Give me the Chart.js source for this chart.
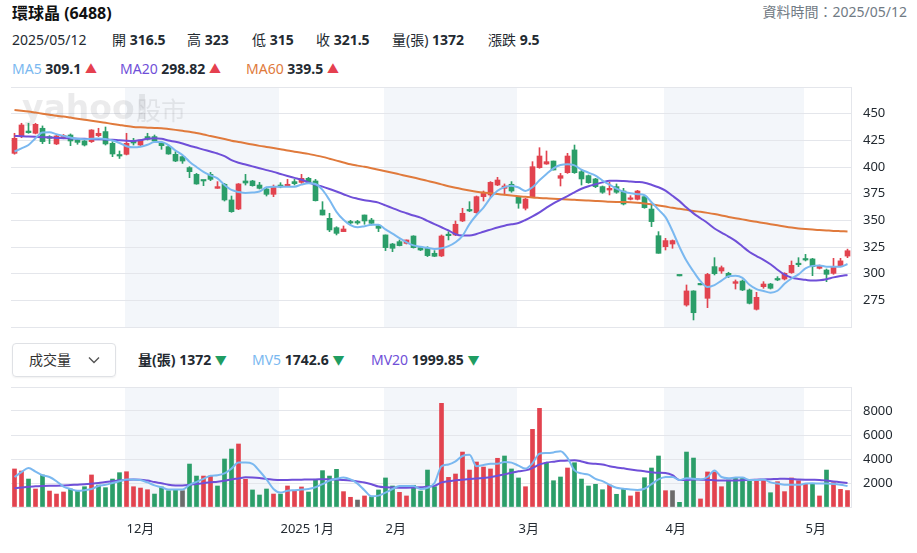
<!DOCTYPE html>
<html>
<head>
<meta charset="utf-8">
<script src="https://cdn.jsdelivr.net/npm/chart.js@4.4.1/dist/chart.umd.min.js"></script>
<style>
  body { margin: 0; background: #fff; font-family: 'Noto Sans', 'Noto Sans CJK TC', sans-serif; color: #232a31; }
  #wrap { position: relative; width: 917px; height: 553px; overflow: hidden; }
  .t { position: absolute; white-space: nowrap; line-height: 1; font-size: 14px; }
  .b { font-weight: 700; }
  .up { color: #e5404f; font-size: 12px; }
  .dn { color: #1f9d62; font-size: 12px; }
  canvas { position: absolute; left: 0; }
  #sel { position: absolute; left: 12px; top: 343px; width: 102px; height: 32px; border: 1px solid #dfe1e5; border-radius: 4px; box-shadow: 0 1px 2px rgba(0,0,0,.06); }
</style>
</head>
<body>
<div id="wrap">
  <div class="t b" style="left:12px;top:5px;font-size:16px;color:#111">環球晶 (6488)</div>
  <div class="t" style="right:10px;top:5px;font-size:14px;color:#707a84">資料時間：2025/05/12</div>

  <div class="t" style="left:12px;top:33px">2025/05/12</div>
  <div class="t" style="left:112px;top:33px">開 <span class="b">316.5</span></div>
  <div class="t" style="left:187px;top:33px">高 <span class="b">323</span></div>
  <div class="t" style="left:252px;top:33px">低 <span class="b">315</span></div>
  <div class="t" style="left:316px;top:33px">收 <span class="b">321.5</span></div>
  <div class="t" style="left:392px;top:33px">量(張) <span class="b">1372</span></div>
  <div class="t" style="left:488px;top:33px">漲跌 <span class="b">9.5</span></div>

  <div class="t" style="left:12px;top:62px"><span style="color:#7ab8f0">MA5</span> <span class="b">309.1</span> <span class="up">▲</span></div>
  <div class="t" style="left:120px;top:62px"><span style="color:#6f4fd8">MA20</span> <span class="b">298.82</span> <span class="up">▲</span></div>
  <div class="t" style="left:246px;top:62px"><span style="color:#e07a3c">MA60</span> <span class="b">339.5</span> <span class="up">▲</span></div>

  <canvas id="price" width="917" height="242" style="top:86px"></canvas>

  <div id="sel">
    <div class="t" style="left:16px;top:9px;color:#333">成交量</div>
    <svg style="position:absolute;left:75px;top:12px" width="12" height="8" viewBox="0 0 12 8"><path d="M1 1.5 L6 6.5 L11 1.5" fill="none" stroke="#555" stroke-width="1.4"/></svg>
  </div>
  <div class="t b" style="left:138px;top:353px">量(張) 1372 <span class="dn">▼</span></div>
  <div class="t" style="left:252px;top:353px"><span style="color:#7ab8f0">MV5</span> <span class="b">1742.6</span> <span class="dn">▼</span></div>
  <div class="t" style="left:371px;top:353px"><span style="color:#6f4fd8">MV20</span> <span class="b">1999.85</span> <span class="dn">▼</span></div>

  <canvas id="vol" width="917" height="160" style="top:386px"></canvas>
</div>

<script>
// trading days per month
const monthDays = [
  [2024, 11, [8, 11, 12, 13, 14, 15, 18, 19, 20, 21, 22, 25, 26, 27, 28, 29]],
  [2024, 12, [2, 3, 4, 5, 6, 9, 10, 11, 12, 13, 16, 17, 18, 19, 20, 23, 24, 25, 26, 27, 30, 31]],
  [2025, 1, [2, 3, 6, 7, 8, 9, 10, 13, 14, 15, 16, 17, 20, 21, 22]],
  [2025, 2, [3, 4, 5, 6, 7, 10, 11, 12, 13, 14, 17, 18, 19, 20, 21, 24, 25, 26, 27]],
  [2025, 3, [3, 4, 5, 6, 7, 10, 11, 12, 13, 14, 17, 18, 19, 20, 21, 24, 25, 26, 27, 28, 31]],
  [2025, 4, [1, 2, 7, 8, 9, 10, 11, 14, 15, 16, 17, 18, 21, 22, 23, 24, 25, 28, 29, 30]],
  [2025, 5, [2, 5, 6, 7, 8, 9, 12]]
];

const opens = [
  412.8, 429.4, 433.7, 431.6, 436.3, 428.5, 421.6, 427.5, 430, 425.3,
  424.4, 423.8, 429.4, 433.2, 422.2, 410.5, 411.9, 424.4, 420.6, 428.5,
  428.5, 422.2, 419.1, 411.9, 409.7, 399.4, 393.1, 387.2, 393.1, 380,
  383.8, 369.1, 360.6, 386.9, 386.9, 383.1, 379.4, 374.4, 383.1, 382.2,
  386.3, 385.6, 389.4, 386.9, 359.7, 351.9, 343.1, 339.4, 348.4, 348.4,
  355, 350.3, 345, 336.3, 327.8, 330, 328.4, 335.3, 324.4, 323.8,
  319.1, 316.6, 336, 336.3, 349.4, 359, 357.2, 372.2, 373.8, 383.1,
  380, 383.8, 371.6, 361.3, 372.2, 399.4, 402.8, 405.6, 389.4, 394.7,
  416, 395.6, 391.9, 388.8, 381.6, 378.4, 381.6, 377.5, 369.7, 369.7,
  372.2, 360.6, 335.6, 325.3, 327.8, 297.9, 270.6, 283.8, 289.5, 276.9,
  306.6, 302.5, 300.3, 290.9, 293.1, 284.7, 266.6, 287.8, 290.3, 295,
  295, 301, 309.4, 313.8, 313.8, 305, 303.4, 300.3, 307.2, 316.5
];
const highs = [
  431.6, 441, 441, 441, 438.5, 429.4, 430, 430.5, 431, 426.9,
  425.3, 435, 436.3, 437.5, 423.8, 415, 431.6, 426.9, 425.6, 431.6,
  430, 423.8, 420.6, 414.4, 410.6, 400.3, 394, 387.5, 395, 386.3,
  384.7, 372.8, 384.5, 393.1, 387.5, 385.6, 381, 383.1, 385.3, 388.4,
  388.4, 393.1, 390.3, 388.4, 367.5, 356.6, 344, 344.7, 350, 350,
  355, 351.9, 345.6, 336.3, 328.4, 331.6, 331.6, 335.6, 325.3, 325.3,
  321.6, 336.3, 339.4, 349.4, 361.3, 367.5, 372.8, 377.5, 386.3, 390.3,
  384.1, 386.3, 372.2, 370.6, 405, 418.1, 415, 405.6, 394, 412.8,
  420.6, 397.2, 392.5, 389.4, 382.2, 385.6, 384.1, 380, 373.1, 378.1,
  372.8, 364.4, 339.4, 333.1, 331.6, 297.9, 289.4, 284, 289.5, 300.3,
  315, 307.2, 301.3, 294.1, 294.1, 285.6, 282.5, 292.5, 290.9, 297.2,
  300.9, 311.9, 315, 318.1, 314.4, 308.1, 304.4, 314.4, 314.4, 323
];
const lows = [
  412, 427.5, 431.6, 431, 421.9, 421.9, 421, 426.5, 420, 421.3,
  419.7, 423, 428.5, 420.6, 409.7, 408, 411.3, 420.6, 419.7, 425.3,
  423.8, 416.6, 411.9, 405, 403.4, 390, 383.8, 382.5, 387.2, 380,
  368.1, 357.5, 360, 383.1, 382, 379.4, 372.8, 372.2, 380.5, 381.6,
  383.1, 384.7, 385, 368.1, 355, 339.4, 336.3, 339.4, 346.3, 346.3,
  346.3, 345.6, 339.4, 321.6, 320.6, 326, 327.8, 324, 321.6, 316,
  316, 316, 331.6, 335.6, 348.8, 358.1, 356.6, 368.1, 371.3, 382.5,
  373.8, 376.3, 361.3, 359.7, 371.6, 398.8, 402.5, 397.2, 382.2, 394,
  394, 383.1, 384.7, 380.6, 375.3, 373.8, 375.3, 364.4, 369.1, 369.1,
  361.3, 344.1, 319.1, 322.2, 323.8, 297.9, 269.5, 256.6, 289.5, 268.1,
  298.8, 300.3, 296.3, 285.6, 284.1, 271.6, 265.9, 286.3, 285.6, 293.4,
  294.1, 300.3, 306.6, 311.9, 298.1, 304.4, 292.5, 299.4, 306.6, 315
];
const closes = [
  426.9, 439.4, 432.2, 440, 423.8, 426.9, 429.1, 429.4, 424.4, 423.1,
  420.6, 434.7, 431.6, 421.6, 412.2, 410.3, 422.2, 422.5, 425.3, 426,
  424.4, 420, 412.2, 405.6, 405.6, 395.6, 384.1, 386.9, 388.4, 381.6,
  369.1, 358.1, 384.1, 385, 382.5, 380, 374.4, 381.6, 381.3, 383.8,
  384.4, 389.4, 385.6, 368.4, 355, 341, 337.8, 341.9, 347.5, 347.5,
  349.4, 347.2, 342.5, 324.4, 323.8, 326.3, 331.6, 324.4, 322.2, 316.9,
  316.3, 335.3, 335.6, 346.3, 356.6, 358.8, 372.2, 375.3, 385.6, 387.8,
  382.2, 377.5, 366, 370, 400.3, 410.3, 405, 397.2, 391.9, 410.3,
  394.7, 388.8, 385.3, 381.6, 376.3, 380, 376.3, 365.3, 370, 377.5,
  361.9, 348.8, 319.1, 331, 331, 297.9, 283.8, 263.4, 289.5, 299.3,
  300, 305.6, 297.2, 292.5, 284.7, 272.2, 277.8, 290.3, 286.3, 294.1,
  300.3, 307.8, 308.4, 312.8, 306.6, 307.2, 299.4, 306.6, 312, 321.5
];
const prevClose = 413;

const volumes = [
  3170, 3000, 2330, 1500, 2670, 1330, 1080, 1250, 1500, 1330,
  1690, 2670, 1830, 1610, 2330, 2860, 2940, 1690, 1580, 1440,
  1080, 1670, 1360, 1440, 1360, 3580, 2580, 2580, 2580, 1750,
  4000, 4830, 5250, 2310, 1420, 1000, 1500, 1080, 1080, 1750,
  1360, 1670, 1250, 2310, 3030, 2580, 3140, 1280, 810, 580,
  920, 860, 1420, 2420, 1750, 1220, 920, 1810, 1330, 3080,
  1690, 8640, 2470, 2750, 4580, 3080, 3750, 3330, 3170, 4060,
  4250, 3170, 2420, 1690, 6470, 8220, 3690, 2190, 2500, 3250,
  3690, 2330, 1750, 1890, 1440, 1830, 1060, 1500, 920, 1250,
  2440, 3250, 4250, 1360, 1360, 390, 4580, 4080, 670, 2920,
  2920, 1690, 2250, 2470, 2470, 2250, 2310, 2190, 1190, 2110,
  1280, 2420, 2190, 1890, 1970, 920, 3080, 2030, 1470, 1372
];

const ma5 = [
  414.5, 417.5, 420.6, 427, 432.3, 432.5, 430.7, 429.2, 427.6, 426.4,
  426.1, 426.6, 426.7, 426.3, 424.8, 422.5, 419.5, 418.4, 419, 420.8,
  423.5, 423.5, 420.5, 415.5, 411.3, 405, 400, 395.4, 392.2, 389.3,
  383.2, 378.5, 376.6, 375.6, 376, 377, 381, 381.6, 381.6, 381.6,
  381.6, 383.5, 384.7, 384, 378.5, 369, 358, 350.5, 345.5, 343.5,
  344.5, 345.8, 345.8, 341.5, 337.5, 333.3, 329.5, 326.5, 325.2, 324.2,
  323.1, 323.8, 325.8, 329.5, 335.5, 346.5, 355, 362, 371, 377.7,
  381.1, 382.5, 380.8, 377.6, 381, 387.5, 393.5, 398.8, 401.8, 402.5,
  401.5, 397.5, 394.7, 392, 387.3, 383.5, 379.7, 376.9, 375.3, 374.5,
  373.5, 367, 360, 353, 340, 325, 312, 302, 293, 287.5,
  289.3, 293.5, 297.5, 298, 296, 289.6, 285.5, 283.8, 282.2, 284,
  290.5, 295.5, 299.3, 305, 307.3, 307.7, 306.6, 306.6, 306.6, 309.1
];
const ma20 = [
  429.1, 428.9, 428.6, 428.3, 428.0, 427.6, 427.3, 427.0, 426.8, 426.6,
  426.4, 426.2, 426.0, 425.8, 425.5, 425.0, 424.6, 424.4, 425.2, 426.5,
  426.9, 426.5, 424.8, 423.6, 422, 420, 418.2, 416.3, 414.5, 412.6,
  410.2, 406.5, 404, 402.3, 400.6, 398.9, 397.1, 395.4, 393.5, 391.6,
  389.8, 388, 385.6, 383.4, 381.6, 379.4, 377, 374.5, 372, 370.3,
  368.8, 367.9, 366.6, 364, 361.5, 358.9, 356.7, 354.5, 352.5, 349.5,
  346.5, 343.5, 340.5, 337, 335.8, 335.8, 337.2, 339.3, 341.3, 343.3,
  345, 346.3, 347.5, 350.3, 353.7, 357.5, 361.9, 365.9, 369.4, 372.8,
  376.3, 379.6, 382, 383.8, 385.6, 387.2, 387.2, 386.9, 386.4, 386,
  385.3, 383.3, 381, 377.8, 373, 368, 362, 356.5, 352, 347.5,
  342.3, 338.5, 334.8, 330.7, 325.5, 320.3, 316.5, 313, 308.8, 303.7,
  299, 296.3, 295, 294.2, 293.5, 293.8, 294.8, 296.5, 297.8, 298.8
];
const ma60 = [
  453.5, 452.8, 452, 451, 450, 449, 448, 447.3, 446.3, 445.3,
  444.3, 443.3, 442.4, 441.4, 440.4, 439.4, 438.4, 437.6, 437.2, 436.9,
  436.6, 436.3, 435.6, 434.8, 433.9, 433, 431.8, 430.5, 429, 427.6,
  426.2, 424.7, 423.5, 422.3, 421, 419.8, 418.8, 417.8, 416.7, 415.4,
  414.4, 413.4, 412.3, 410.9, 409.5, 407.8, 406, 404.3, 402.5, 401.3,
  400.2, 398.9, 397.5, 396, 394.6, 393.1, 391.6, 390.1, 388.6, 387,
  385.4, 383.7, 382, 380.5, 379.2, 378, 376.9, 376, 375.3, 374.6,
  374, 373.3, 372.6, 372, 371.4, 371, 370.6, 370.2, 369.9, 369.6,
  369.2, 368.8, 368.5, 368.2, 367.9, 367.5, 367.3, 367.2, 367, 366.5,
  365.8, 365, 364, 362.9, 361.7, 360.8, 359.8, 358.8, 358, 357,
  355.9, 354.6, 353.2, 352, 350.9, 349.7, 348.6, 347.5, 346.4, 345.3,
  344.2, 343.2, 342.4, 341.8, 341.3, 340.9, 340.5, 340.1, 339.8, 339.5
];
const mv5 = [
  2500, 2900, 3250, 2950, 2650, 2500, 2150, 1700, 1500, 1350,
  1400, 1500, 1750, 1850, 2000, 2150, 2300, 2300, 2250, 2050,
  1800, 1650, 1450, 1450, 1450, 1850, 2100, 2350, 2600, 2650,
  2800, 3200, 3700, 3700, 3600, 3000, 2300, 1500, 1200, 1350,
  1400, 1450, 1500, 1650, 1900, 2200, 2350, 2450, 2300, 1950,
  1400, 900, 950, 1200, 1500, 1750, 1750, 1750, 1500, 1600,
  2000, 3400, 3550, 3800, 4250, 4350, 3400, 3500, 3600, 3600,
  3750, 3700, 3450, 3200, 3650, 4450, 4500, 4550, 4650, 4100,
  3050, 2800, 2700, 2350, 2150, 1850, 1600, 1530, 1450, 1420,
  1520, 1900, 2300, 2500, 2500, 2250, 2400, 2350, 2300, 2500,
  3050, 2500, 2400, 2450, 2450, 2250, 2250, 2300, 2050, 1950,
  1850, 1850, 1850, 1950, 1970, 1950, 1950, 1920, 1850, 1743
];
const mv20 = [
  1560, 1620, 1690, 1720, 1750, 1770, 1780, 1800, 1830, 1860,
  1890, 1940, 2000, 2080, 2150, 2220, 2260, 2290, 2280, 2200,
  2080, 1980, 1860, 1800, 1790, 1840, 1920, 1990, 2060, 2110,
  2190, 2300, 2380, 2470, 2460, 2420, 2330, 2280, 2260, 2260,
  2270, 2280, 2300, 2300, 2310, 2300, 2290, 2250, 2200, 2130,
  2050, 1900, 1700, 1640, 1620, 1610, 1610, 1620, 1640, 1700,
  1760, 2050, 2150, 2220, 2280, 2330, 2370, 2420, 2480, 2600,
  2720, 2850, 2980, 3050, 3250, 3550, 3700, 3780, 3850, 3870,
  3900, 3800, 3650, 3600, 3550, 3400, 3300, 3220, 3130, 3050,
  2980, 2900, 2850, 2830, 2650, 2250, 2250, 2300, 2280, 2250,
  2230, 2200, 2200, 2210, 2230, 2260, 2280, 2300, 2320, 2340,
  2360, 2340, 2300, 2280, 2270, 2260, 2200, 2130, 2070, 2000
];

const priceMin = 250, priceMax = 475, priceStep = 25;
const volMin = 0, volMax = 10000, volStep = 2000;

const RED = '#e2434f';
const GREEN = '#2b9e69';
const GRAY = '#6b6b6b';
const C_MA5 = '#7ab8f0';
const C_MA20 = '#6f4fd8';
const C_MA60 = '#e07a3c';
const GRID = '#e4e6eb';
const BAND = '#f3f6fa';

// labels and month boundaries
const labels = [];
const monthStart = [];
const monthRanges = [];
monthDays.forEach(([y, m, days]) => {
  const from = labels.length;
  days.forEach((d, k) => {
    labels.push(y + '/' + String(m).padStart(2, '0') + '/' + String(d).padStart(2, '0'));
    monthStart.push(k === 0 && from > 0 ? (m === 1 ? y + ' 1月' : m + '月') : '');
  });
  monthRanges.push([from, labels.length - 1]);
});

const candleColors = closes.map((c, i) => c > opens[i] ? RED : GREEN);
const volColors = closes.map((c, i) => {
  const p = i === 0 ? prevClose : closes[i - 1];
  return c > p ? RED : (c < p ? GREEN : GRAY);
});

const bandPlugin = {
  id: 'bands',
  beforeDraw(chart) {
    const { ctx, chartArea, scales: { x } } = chart;
    const step = x.getPixelForValue(1) - x.getPixelForValue(0);
    ctx.save();
    ctx.fillStyle = BAND;
    monthRanges.forEach((r, k) => {
      if (k % 2 !== 1) return;
      const x0 = x.getPixelForValue(r[0]) - step / 2 + 2;
      const x1 = Math.min(x.getPixelForValue(r[1]) + step / 2 + 2, chartArea.right);
      ctx.fillRect(x0, chartArea.top, x1 - x0, chartArea.bottom - chartArea.top);
    });
    ctx.restore();
  }
};

const watermark = {
  id: 'watermark',
  beforeDatasetsDraw(chart) {
    const ctx = chart.ctx;
    ctx.save();
    ctx.fillStyle = 'rgba(110,110,120,0.14)';
    ctx.textBaseline = 'alphabetic';
    ctx.font = 'bold 33px "DejaVu Sans", sans-serif';
    ctx.fillText('yahoo!', 22, 33);
    ctx.font = '25px "Noto Sans CJK TC", sans-serif';
    ctx.fillText('股市', 136, 34);
    ctx.restore();
  }
};

function lineSet(data, color, width) {
  return {
    type: 'line', data, borderColor: color, borderWidth: width,
    pointRadius: 0, cubicInterpolationMode: 'monotone', fill: false, order: 1
  };
}

function yAxis(min, max, step) {
  return {
    position: 'right', min, max,
    grid: { color: GRID, drawTicks: false },
    border: { display: true, color: GRID },
    ticks: {
      stepSize: step, padding: 12, color: '#232a31',
      font: { size: 13, family: "'Noto Sans', sans-serif" },
      callback: v => (v === min || v === max) ? '' : v
    },
    afterFit: s => { s.width = 66; s.paddingTop = 0; s.paddingBottom = 0; }
  };
}

Chart.defaults.font.family = "'Noto Sans', 'Noto Sans CJK TC', sans-serif";

new Chart(document.getElementById('price'), {
  type: 'bar',
  data: {
    labels,
    datasets: [
      lineSet(ma5, C_MA5, 2),
      lineSet(ma20, C_MA20, 2),
      lineSet(ma60, C_MA60, 2),
      {
        data: lows.map((l, i) => [l, highs[i]]), backgroundColor: candleColors,
        barThickness: 1, grouped: false, order: 3
      },
      {
        data: opens.map((o, i) => [o, closes[i]]), backgroundColor: candleColors,
        barThickness: 5, minBarLength: 1.5, grouped: false, order: 2
      }
    ]
  },
  options: {
    responsive: false,
    animation: false,
    layout: { padding: { left: 11, top: 1, bottom: 1, right: 0 } },
    plugins: { legend: { display: false }, tooltip: { enabled: false } },
    scales: {
      x: { display: false, offset: true },
      y: yAxis(priceMin, priceMax, priceStep)
    }
  },
  plugins: [bandPlugin, watermark]
});

new Chart(document.getElementById('vol'), {
  type: 'bar',
  data: {
    labels,
    datasets: [
      lineSet(mv5, C_MA5, 2),
      lineSet(mv20, C_MA20, 2),
      { data: volumes, backgroundColor: volColors, barThickness: 4, order: 2 }
    ]
  },
  options: {
    responsive: false,
    animation: false,
    layout: { padding: { left: 11, top: 1, right: 0 } },
    plugins: { legend: { display: false }, tooltip: { enabled: false } },
    scales: {
      x: {
        offset: true,
        grid: { display: false, drawTicks: false },
        border: { display: false },
        ticks: {
          autoSkip: false, maxRotation: 0, align: 'start', padding: 14,
          color: '#232a31', font: { size: 13 },
          callback: (v, i) => monthStart[i]
        },
        afterFit: s => { s.height = 39; s.paddingLeft = 0; s.paddingRight = 0; }
      },
      y: yAxis(volMin, volMax, volStep)
    }
  },
  plugins: [bandPlugin]
});
</script>
</body>
</html>
